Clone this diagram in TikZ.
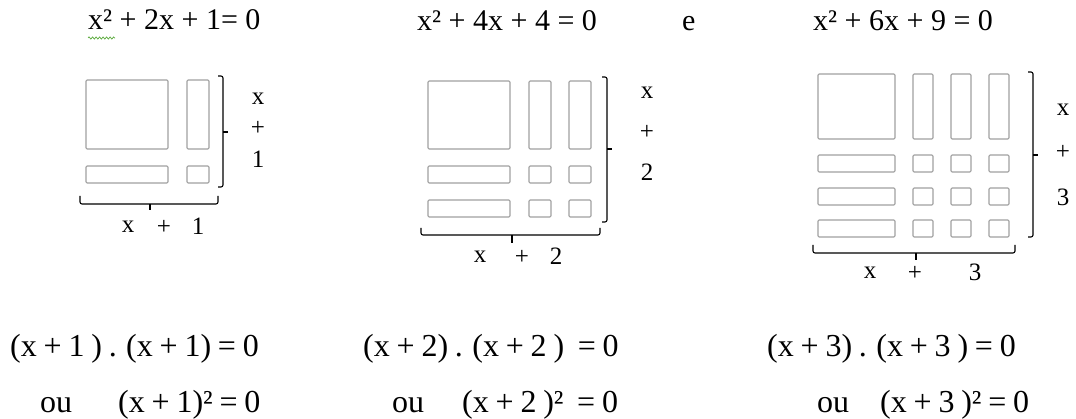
\documentclass[tikz,border=0pt]{standalone}
\usepackage{fontspec}
\setmainfont{Liberation Serif}
\newfontfamily\factorfont[WordSpace=0.85]{Liberation Serif}
\usetikzlibrary{decorations.pathmorphing}
\definecolor{tilegray}{RGB}{160,160,160}
\definecolor{squiggle}{RGB}{90,170,60}

\tikzset{
  tile/.style={draw=tilegray, line width=1.1pt, rounded corners=1.2pt},
  brace/.style={draw=black, line width=1.1pt, rounded corners=2pt},
  eqn/.style={anchor=base west, inner sep=0pt, font=\fontsize{30}{36}\selectfont},
  factor/.style={anchor=base west, inner sep=0pt, font=\factorfont\fontsize{32}{38}\selectfont},
  lbl/.style={inner sep=0pt, font=\fontsize{25}{30}\selectfont}
}

\begin{document}
\begin{tikzpicture}[x=1pt, y=-1pt]
  \useasboundingbox (0,0) rectangle (1076,419);

  % Equations on top
  \node[eqn] (title1) at (88,30) {x² + 2x + 1= 0};
  \node[eqn] (title2) at (417,31) {x² + 4x + 4 = 0};
  \node[eqn] (conj) at (682,31) {e};
  \node[eqn] (title3) at (813,31) {x² + 6x + 9 = 0};
  \draw[squiggle, line width=0.7pt, decorate,
        decoration={snake, amplitude=1.1pt, segment length=3.5pt}] (88,38) -- (115,38);

  % Tiles for (x+1)^2
  \draw[tile] (86,80) rectangle (168,149);
  \draw[tile] (187,80) rectangle (209,149);
  \draw[tile] (86,166) rectangle (168,183);
  \draw[tile] (187,166) rectangle (209,183);

  % Tiles for (x+2)^2
  \draw[tile] (428,81) rectangle (510,149);
  \foreach \c in {529,569}
    \draw[tile] (\c,81) rectangle ++(22,68);
  \foreach \r in {166,200} {
    \draw[tile] (428,\r) rectangle ++(82,17);
    \foreach \c in {529,569}
      \draw[tile] (\c,\r) rectangle ++(22,17);
  }

  % Tiles for (x+3)^2
  \draw[tile] (818,74) rectangle (895,139);
  \foreach \c in {913,951,989}
    \draw[tile] (\c,74) rectangle ++(20,65);
  \foreach \r in {155,188,220} {
    \draw[tile] (818,\r) rectangle ++(77,17);
    \foreach \c in {913,951,989}
      \draw[tile] (\c,\r) rectangle ++(20,17);
  }

  % Braces
  \draw[brace] (218,76) -- (223,76) -- (223,187) -- (218,187);
  \draw[brace] (223,132) -- (228,132);
  \draw[brace] (80,196) -- (80,204) -- (218,204) -- (218,196);
  \draw[brace] (150,204) -- (150,210);

  \draw[brace] (602,77) -- (607,77) -- (607,222) -- (602,222);
  \draw[brace] (607,149) -- (612,149);
  \draw[brace] (421,228) -- (421,235) -- (600,235) -- (600,228);
  \draw[brace] (512,235) -- (512,243);

  \draw[brace] (1028,72) -- (1033,72) -- (1033,237) -- (1028,237);
  \draw[brace] (1033,155) -- (1038,155);
  \draw[brace] (813,245) -- (813,253) -- (1015,253) -- (1015,245);
  \draw[brace] (916,253) -- (916,260);

  % Side labels
  \node[lbl] (s1x) at (258,99) {x};
  \node[lbl] (s1p) at (258,128) {+};
  \node[lbl] (s1n) at (258,159) {1};
  \node[lbl] (s2x) at (647,93) {x};
  \node[lbl] (s2p) at (647,132) {+};
  \node[lbl] (s2n) at (647,172) {2};
  \node[lbl] (s3x) at (1063,110) {x};
  \node[lbl] (s3p) at (1063,152) {+};
  \node[lbl] (s3n) at (1063,197) {3};

  % Bottom labels
  \node[lbl] (b1x) at (128,227) {x};
  \node[lbl] (b1p) at (164,227) {+};
  \node[lbl] (b1n) at (198,226) {1};
  \node[lbl] (b2x) at (480,257) {x};
  \node[lbl] (b2p) at (522,257) {+};
  \node[lbl] (b2n) at (556,256) {2};
  \node[lbl] (b3x) at (870,273) {x};
  \node[lbl] (b3p) at (915,273) {+};
  \node[lbl] (b3n) at (975,272) {3};

  % Factored forms
  \node[factor] (prod1) at (10,357) {(x + 1 ) . (x + 1) = 0};
  \node[factor] (prod2) at (363,357) {(x + 2) . (x + 2 )\ \ = 0};
  \node[factor] (prod3) at (767,357) {(x + 3) . (x + 3 ) = 0};
  \node[factor] (ou1) at (40,412) {ou};
  \node[factor] (sq1) at (118,412) {(x + 1)² = 0};
  \node[factor] (ou2) at (392,412) {ou};
  \node[factor] (sq2) at (462,412) {(x + 2 )²\ \ = 0};
  \node[factor] (ou3) at (817,412) {ou};
  \node[factor] (sq3) at (880,412) {(x + 3 )² = 0};
\end{tikzpicture}
\end{document}
